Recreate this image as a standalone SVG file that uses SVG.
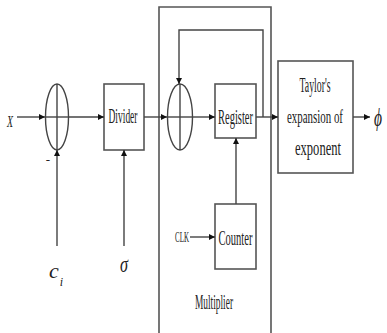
<svg xmlns="http://www.w3.org/2000/svg" width="387" height="333" viewBox="0 0 387 333">
<style>
.box{fill:#fff;stroke:#555;stroke-width:1.6}
.ln{fill:none;stroke:#444;stroke-width:1.4}
.arr{fill:none;stroke:#444;stroke-width:1.4;marker-end:url(#ah)}
.t{font-family:"Liberation Serif","Times New Roman",serif;fill:#222;text-anchor:middle}
.i{font-family:"Liberation Serif","Times New Roman",serif;font-style:italic;fill:#222;text-anchor:middle}
</style>
<defs>
<marker id="ah" viewBox="0 0 10 10" refX="10" refY="5" markerWidth="6" markerHeight="6" markerUnits="userSpaceOnUse" orient="auto">
<path d="M0,0 L10,5 L0,10 z" fill="#111"/>
</marker>
</defs>
<rect width="387" height="333" fill="#fff"/>
<g id="multiplier">
<path class="ln" d="M159,333 V7 H271 V333" style="stroke:#555;stroke-width:1.6"/>
<text class="t" x="214" y="309" font-size="20" textLength="38" lengthAdjust="spacingAndGlyphs">Multiplier</text>
</g>
<g id="sum1">
<ellipse cx="57" cy="117" rx="11.5" ry="33" class="ln"/>
<line x1="57" y1="84" x2="57" y2="150" class="ln"/>
<line x1="45" y1="117" x2="68" y2="117" class="ln"/>
<text class="t" x="48" y="164" font-size="13">-</text>
</g>
<g id="divider">
<rect class="box" x="104" y="84" width="40" height="66"/>
<text class="t" x="123" y="123" font-size="22" textLength="29" lengthAdjust="spacingAndGlyphs">Divider</text>
</g>
<g id="sum2">
<ellipse cx="180" cy="117" rx="12.5" ry="33" class="ln"/>
<line x1="180" y1="84" x2="180" y2="150" class="ln"/>
<line x1="167" y1="117" x2="192" y2="117" class="ln"/>
</g>
<g id="register">
<rect class="box" x="215" y="84" width="41" height="54"/>
<text class="t" x="235.5" y="124" font-size="22" textLength="35" lengthAdjust="spacingAndGlyphs">Register</text>
</g>
<g id="counter">
<rect class="box" x="215" y="204" width="41" height="65"/>
<text class="t" x="235.5" y="245" font-size="22" textLength="34" lengthAdjust="spacingAndGlyphs">Counter</text>
</g>
<g id="taylor">
<rect class="box" x="278" y="61" width="75" height="112"/>
<text class="t" x="315" y="92" font-size="20" textLength="31" lengthAdjust="spacingAndGlyphs">Taylor's</text>
<text class="t" x="315" y="123" font-size="19" textLength="56" lengthAdjust="spacingAndGlyphs">expansion of</text>
<text class="t" x="318" y="155" font-size="20" textLength="46" lengthAdjust="spacingAndGlyphs">exponent</text>
</g>
<g id="labels">
<text class="i" x="10" y="127" font-size="17" textLength="6" lengthAdjust="spacingAndGlyphs">X</text>
<text class="i" x="56" y="278" font-size="22">c<tspan font-size="12" dx="1" dy="8">i</tspan></text>
<text class="i" x="124" y="272" font-size="24" textLength="8" lengthAdjust="spacingAndGlyphs">σ</text>
<text class="i" x="378" y="126" font-size="26" textLength="8" lengthAdjust="spacingAndGlyphs">ϕ</text>
<text class="t" x="182" y="242" font-size="14" textLength="14" lengthAdjust="spacingAndGlyphs">CLK</text>
</g>
<g id="connectors">
<line class="arr" x1="17" y1="117" x2="45" y2="117"/>
<line class="arr" x1="57" y1="246" x2="57" y2="150"/>
<line class="arr" x1="68" y1="117" x2="104" y2="117"/>
<line class="arr" x1="124" y1="246" x2="124" y2="150"/>
<line class="arr" x1="144" y1="117" x2="167" y2="117"/>
<line class="arr" x1="192" y1="117" x2="215" y2="117"/>
<line class="arr" x1="256" y1="117" x2="278" y2="117"/>
<path class="arr" d="M263,117 V30 H179 V84"/>
<line class="arr" x1="236" y1="204" x2="236" y2="138"/>
<line class="arr" x1="190" y1="237" x2="215" y2="237"/>
<line class="arr" x1="353" y1="117" x2="370" y2="117"/>
</g>
</svg>
